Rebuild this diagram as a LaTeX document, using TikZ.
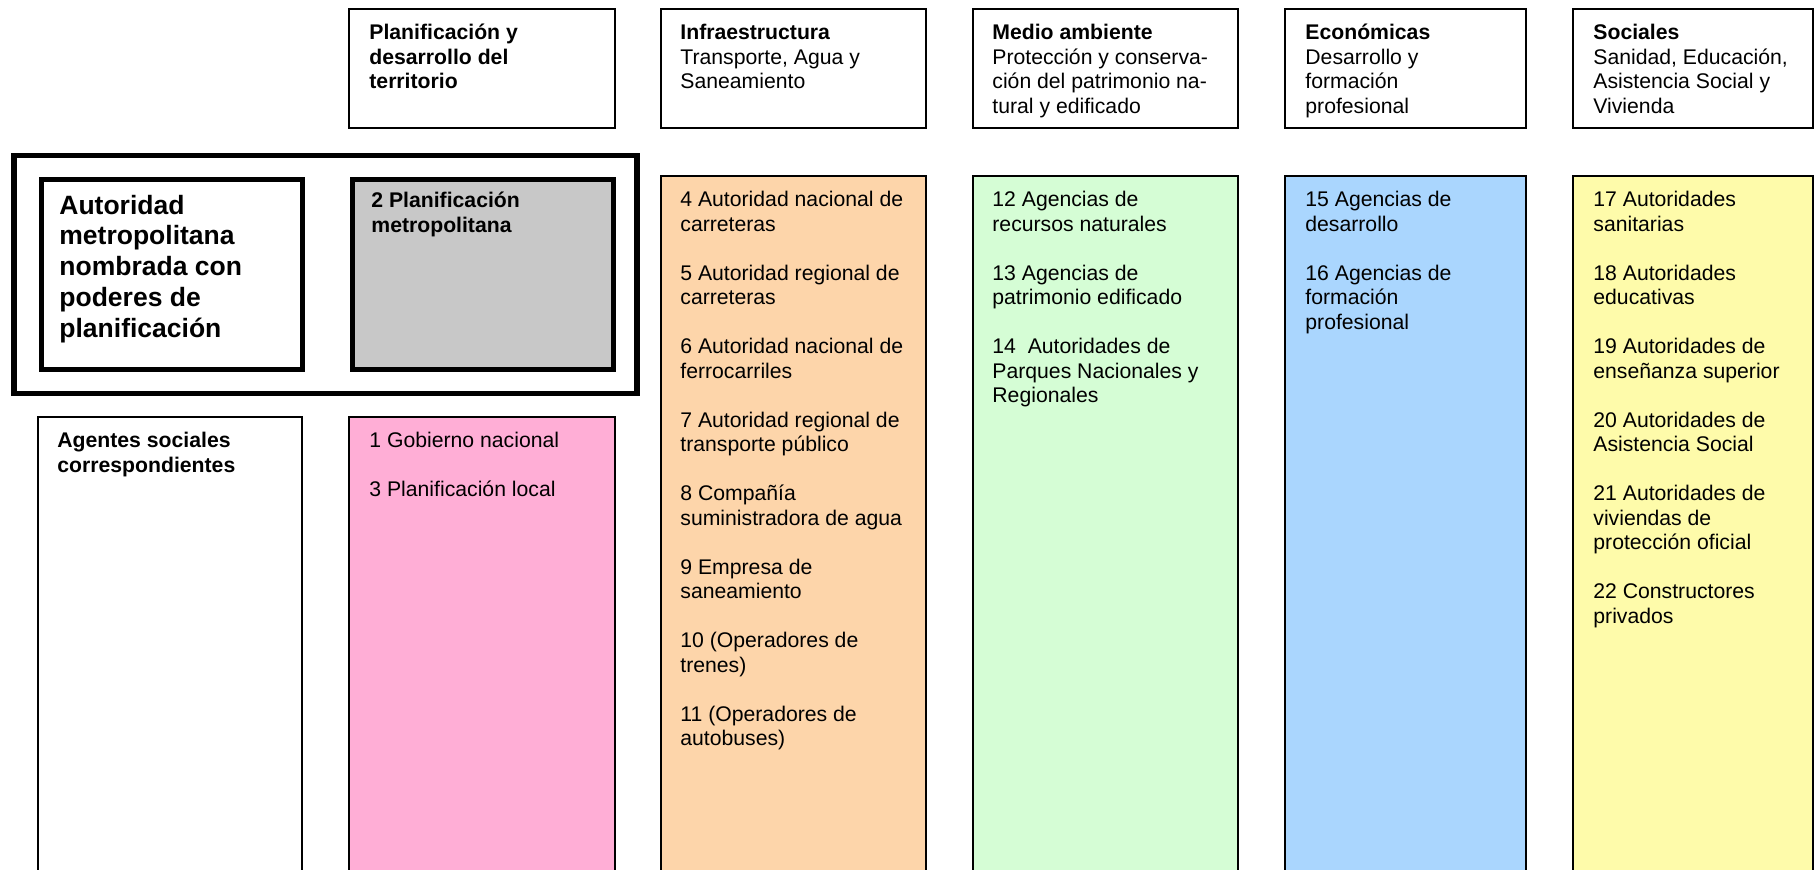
\documentclass[tikz,border=0pt]{standalone}
\usepackage{fontspec}
\setmainfont{Liberation Sans}
\usepackage{tikz}

\definecolor{rosa}{RGB}{255,174,214}
\definecolor{naranja}{RGB}{253,213,170}
\definecolor{verde}{RGB}{213,253,213}
\definecolor{azul}{RGB}{170,214,254}
\definecolor{amarillo}{RGB}{254,251,170}
\definecolor{gris}{RGB}{200,200,200}

\begin{document}
\begin{tikzpicture}[x=0.5pt,y=-0.5pt,
    box/.style={rectangle,draw=black,line width=0.75pt,inner sep=0pt,anchor=north west},
    txt/.style={anchor=north west,yshift=8.575pt,inner sep=0pt,align=left,
        font=\fontsize{10.6}{12.25}\selectfont,execute at begin node=\strut}]
    \useasboundingbox (0,0) rectangle (1820,869);
    \clip (0,0) rectangle (1820,869);

            % cabeceras
            \begin{scope}[every node/.style={box,minimum height=59.5pt}]
                \node[minimum width=133pt] (hplan) at (348,8) {};
                \node[minimum width=132.5pt] (hinfra) at (660,8) {};
                \node[minimum width=132.5pt] (hmedio) at (972,8) {};
                \node[minimum width=120.5pt] (hecon) at (1284,8) {};
                \node[minimum width=120pt] (hsoc) at (1572,8) {};
            \end{scope}

            % columnas
            \begin{scope}[every node/.style={box}]
                \node[minimum width=132pt,minimum height=242pt] (agentes) at (37,416) {};
                \node[fill=rosa,minimum width=133pt,minimum height=242pt] (p1) at (348,416) {};
                \node[fill=naranja,minimum width=132.5pt,minimum height=362.5pt] (p2) at (660,175) {};
                \node[fill=verde,minimum width=132.5pt,minimum height=362.5pt] (p3) at (972,175) {};
                \node[fill=azul,minimum width=120.5pt,minimum height=362.5pt] (p4) at (1284,175) {};
                \node[fill=amarillo,minimum width=120pt,minimum height=362.5pt] (p5) at (1572,175) {};

                \node[line width=2.75pt,minimum width=311.5pt,minimum height=119pt] (metro) at (11,152.5) {};
                \node[line width=2.25pt,minimum width=130.5pt,minimum height=95pt] (autoridad) at (39,177) {};
                \node[fill=gris,line width=2.25pt,minimum width=130.5pt,minimum height=95pt] (p0) at (350,177) {};
            \end{scope}

            % textos
            \begin{scope}[every node/.style={txt}]
                \node (thplan) at ([shift={(21,33)}]hplan.north west) {\bfseries Planificación y\\\bfseries desarrollo del\\\bfseries territorio};
                \node (thinfra) at ([shift={(20,33)}]hinfra.north west) {\bfseries Infraestructura\\Transporte, Agua y\\Saneamiento};
                \node (thmedio) at ([shift={(20,33)}]hmedio.north west) {\bfseries Medio ambiente\\Protección y conserva-\\ción del patrimonio na-\\tural y edificado};
                \node (thecon) at ([shift={(21,33)}]hecon.north west) {\bfseries Económicas\\Desarrollo y\\formación\\profesional};
                \node (thsoc) at ([shift={(21,33)}]hsoc.north west) {\bfseries Sociales\\Sanidad, Educación,\\Asistencia Social y\\Vivienda};

                \node[font=\fontsize{13.25}{15.4}\selectfont\bfseries,yshift=2.2pt] (tautoridad) at ([shift={(20,39)}]autoridad.north west) {Autoridad\\metropolitana\\nombrada con\\poderes de\\planificación};
                \node (tp0) at ([shift={(21,32)}]p0.north west) {\bfseries 2 Planificación\\\bfseries metropolitana};
                \node (tagentes) at ([shift={(20,33)}]agentes.north west) {\bfseries Agentes sociales\\\bfseries correspondientes};
                \node (tp1) at ([shift={(21,33)}]p1.north west) {1 Gobierno nacional\\[12.25pt]3 Planificación local};
                \node (tp2) at ([shift={(20,33)}]p2.north west) {4 Autoridad nacional de\\carreteras\\[12.25pt]5 Autoridad regional de\\carreteras\\[12.25pt]6 Autoridad nacional de\\ferrocarriles\\[12.25pt]7 Autoridad regional de\\transporte público\\[12.25pt]8 Compañía\\suministradora de agua\\[12.25pt]9 Empresa de\\saneamiento\\[12.25pt]10 (Operadores de\\trenes)\\[12.25pt]11 (Operadores de\\autobuses)};
                \node (tp3) at ([shift={(20,33)}]p3.north west) {12 Agencias de\\recursos naturales\\[12.25pt]13 Agencias de\\patrimonio edificado\\[12.25pt]14\ \ Autoridades de\\Parques Nacionales y\\Regionales};
                \node (tp4) at ([shift={(21,33)}]p4.north west) {15 Agencias de\\desarrollo\\[12.25pt]16 Agencias de\\formación\\profesional};
                \node (tp5) at ([shift={(21,33)}]p5.north west) {17 Autoridades\\sanitarias\\[12.25pt]18 Autoridades\\educativas\\[12.25pt]19 Autoridades de\\enseñanza superior\\[12.25pt]20 Autoridades de\\Asistencia Social\\[12.25pt]21 Autoridades de\\viviendas de\\protección oficial\\[12.25pt]22 Constructores\\privados};
            \end{scope}
        \end{tikzpicture}
\end{document}
